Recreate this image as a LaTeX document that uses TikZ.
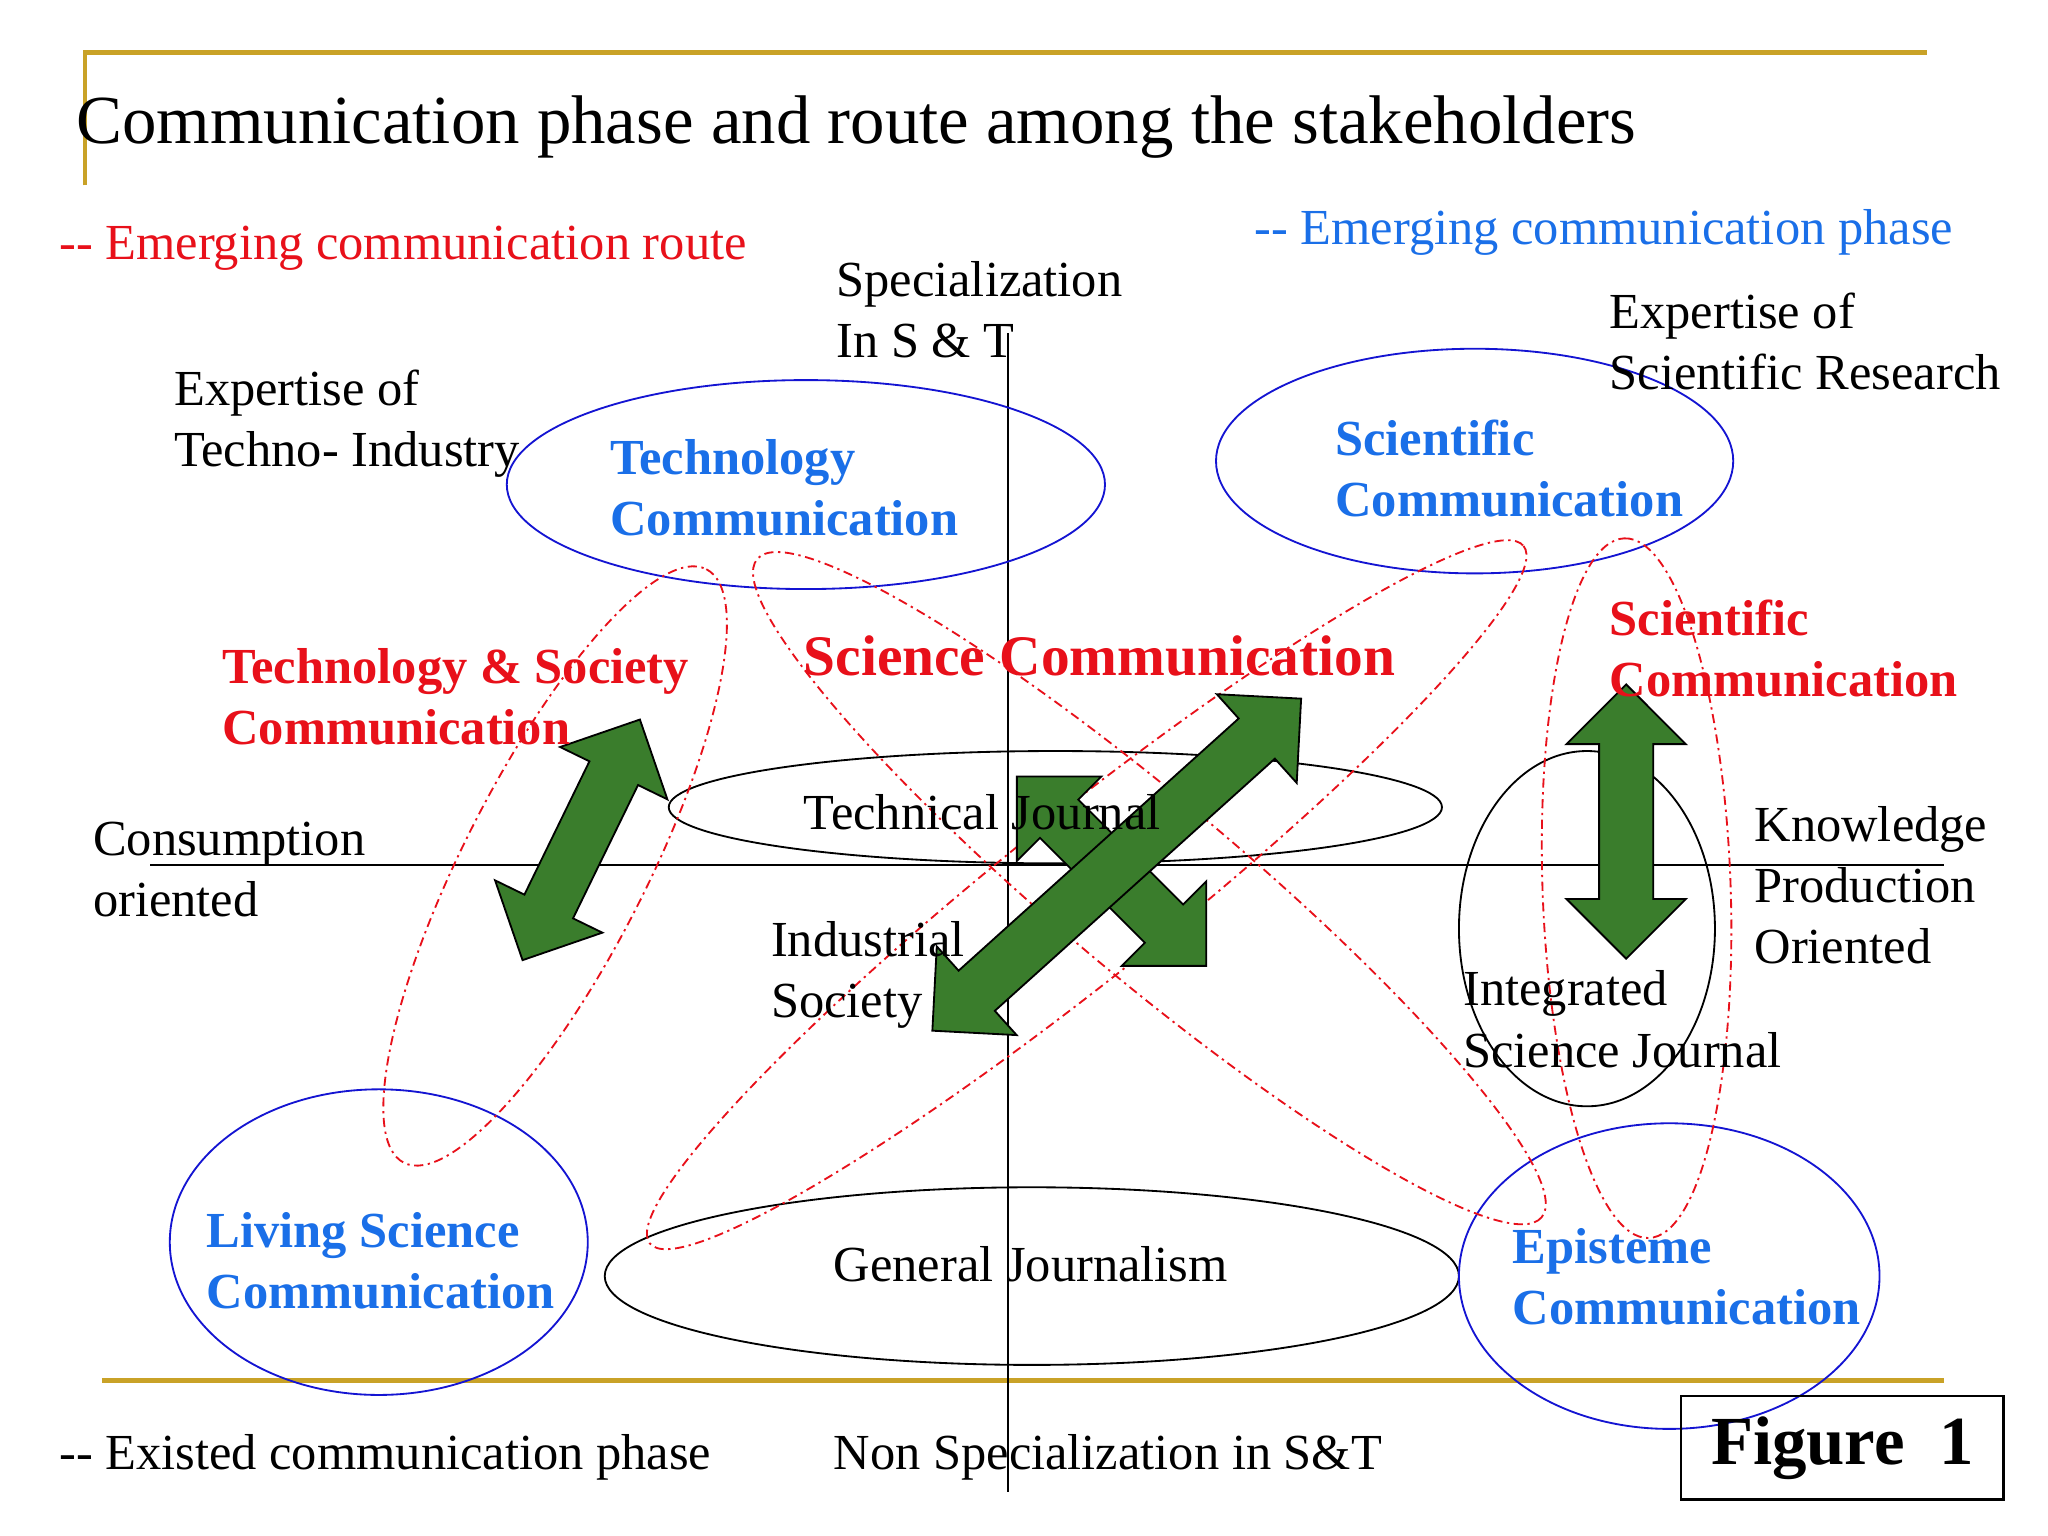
\documentclass[tikz,border=0pt]{standalone}
\usepackage{fontspec}
\setmainfont{Liberation Serif}
\usetikzlibrary{shapes.arrows}
\definecolor{gold}{HTML}{C9A227}
\definecolor{tblue}{HTML}{1A6FE8}
\definecolor{eblue}{HTML}{1414D2}
\definecolor{tred}{HTML}{E8101A}
\definecolor{agreen}{HTML}{3A7D2C}
\tikzset{
 txt/.style={inner sep=0pt,font=\fontsize{22pt}{26.7pt}\selectfont,align=left,anchor=north west},
 btxt/.style={txt,font=\fontsize{22pt}{26.7pt}\selectfont\bfseries},
 bluet/.style={btxt,text=tblue},
 redt/.style={btxt,text=tred},
 blk/.style={draw=black,line width=0.8pt},
 blu/.style={draw=eblue,line width=0.8pt},
 rdd/.style={draw=tred,line width=0.8pt,dash pattern=on 4pt off 2pt on 1pt off 2pt},
 garrow/.style={double arrow,draw=black,fill=agreen,line width=0.8pt,inner xsep=0pt,inner ysep=0.4cm,
   double arrow head extend=0.5cm,text width=0pt,text height=0pt,text depth=0pt}
}
\begin{document}
\begin{tikzpicture}[x=0.02cm,y=-0.02cm]
\useasboundingbox[fill=white] (0,0) rectangle (1568,1176);
% gold rules
\draw[gold,line width=2pt] (65,142) -- (65,40) -- (1475,40);
\draw[gold,line width=2pt] (78,1057) -- (1488,1057);
\node[txt,anchor=west,font=\fontsize{30pt}{34pt}\selectfont] (title) at (58,97) {Communication phase and route among the stakeholders};
% axes
\coordinate (vt) at (772,255); \coordinate (vb) at (772,1142);
\coordinate (hl) at (115,662); \coordinate (hr) at (1488,662);
\draw[line width=0.8pt] (vt) -- (vb);
\draw[line width=0.8pt] (hl) -- (hr);
% black ellipses
\draw[blk] (808,618) ellipse [x radius=296, y radius=43];
\draw[blk] (1215,711) ellipse [x radius=98, y radius=136];
\draw[blk] (790,977) ellipse [x radius=327, y radius=68];
% blue ellipses
\draw[blu] (617,371) ellipse [x radius=229, y radius=80];
\draw[blu] (1129,353) ellipse [x radius=198, y radius=86];
\draw[blu] (290,951) ellipse [x radius=160, y radius=117];
\draw[blu] (1278,977) ellipse [x radius=161, y radius=117];
% red dash-dot ellipses
\draw[rdd,rotate around={63:(425,663)}] (425,663) ellipse [x radius=255, y radius=70];
\draw[rdd,rotate around={-40:(880,680)}] (880,680) ellipse [x radius=392, y radius=68];
\draw[rdd,rotate around={38.6:(832,685)}] (832,685) ellipse [x radius=428, y radius=62];
\draw[rdd,rotate around={92:(1253,680)}] (1253,680) ellipse [x radius=268, y radius=72];
% green arrows
\node[garrow,minimum height=4.1cm,rotate=-45] (a3) at (851,667) {};
\node[garrow,minimum height=4.1cm,rotate=64] (a1) at (445,643) {};
\node[garrow,minimum height=7.6cm,rotate=42] (a2) at (855,662) {};
\node[garrow,minimum height=4.2cm,rotate=90] (a4) at (1245,629) {};
% texts
\node[txt,anchor=west,text=tred] (er) at (45,190) {{-}{-} Emerging communication route};
\node[txt,anchor=west,text=tblue] (ep) at (960,178) {{-}{-} Emerging communication phase};
\node[txt] (spec) at (640,200) {Specialization\\In S \& T};
\node[txt] (exsr) at (1232,224) {Expertise of\\Scientific Research};
\node[txt] (exti) at (133,283) {Expertise of\\Techno- Industry};
\node[bluet] (tc) at (467,336) {Technology\\Communication};
\node[bluet] (sc) at (1022,321) {Scientific\\Communication};
\node[redt,anchor=west,font=\fontsize{25pt}{28pt}\selectfont\bfseries] (scc) at (615,502) {Science Communication};
\node[redt] (tsc) at (170,496) {Technology \& Society\\Communication};
\node[redt] (rsc) at (1232,459) {Scientific\\Communication};
\node[txt,anchor=west] (tj) at (615,622) {Technical Journal};
\node[txt] (co) at (71,629) {Consumption\\oriented};
\node[txt] (kpo) at (1343,617) {Knowledge\\Production\\Oriented};
\node[txt] (is) at (590,705) {Industrial\\Society};
\node[txt] (isj) at (1120,743) {Integrated\\Science Journal};
\node[bluet] (lsc) at (158,928) {Living Science\\Communication};
\node[bluet] (epc) at (1158,940) {Episteme\\Communication};
\node[txt,anchor=west] (gj) at (638,968) {General Journalism};
\node[txt,anchor=west] (ecp) at (45,1116) {{-}{-} Existed communication phase};
\node[txt,anchor=west] (ns) at (638,1116) {Non Specialization in S\&T};
\node[draw,line width=1pt,minimum width=4.94cm,minimum height=1.58cm,inner sep=0pt,
  font=\fontsize{30pt}{32pt}\selectfont\bfseries] (fig) at (1410.5,1108.5) {Figure~~1};
\end{tikzpicture}
\end{document}
